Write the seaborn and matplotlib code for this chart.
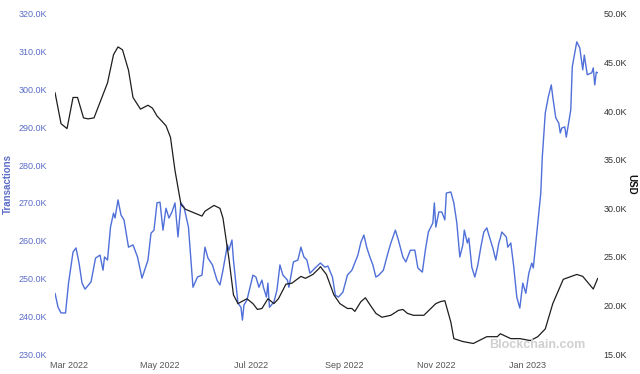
import matplotlib
matplotlib.use("Agg")
import matplotlib.pyplot as plt
import matplotlib.dates as mdates
from matplotlib.ticker import FuncFormatter, MultipleLocator
import pandas as pd
import seaborn as sns

# Daily transactions (thousands), left axis
tx_dates = [
    "2022-02-20", "2022-02-22", "2022-02-24", "2022-02-27", "2022-03-01", "2022-03-04",
    "2022-03-06", "2022-03-08", "2022-03-10", "2022-03-12", "2022-03-16", "2022-03-19",
    "2022-03-22", "2022-03-24", "2022-03-25", "2022-03-27", "2022-03-29", "2022-03-31",
    "2022-04-01", "2022-04-03", "2022-04-05", "2022-04-07", "2022-04-10", "2022-04-13",
    "2022-04-16", "2022-04-19", "2022-04-23", "2022-04-25", "2022-04-27", "2022-04-29",
    "2022-05-01", "2022-05-03", "2022-05-05", "2022-05-07", "2022-05-09", "2022-05-11",
    "2022-05-13", "2022-05-15", "2022-05-17", "2022-05-20", "2022-05-22", "2022-05-23",
    "2022-05-26", "2022-05-29", "2022-05-31", "2022-06-02", "2022-06-05", "2022-06-08",
    "2022-06-10", "2022-06-12", "2022-06-15", "2022-06-16", "2022-06-18", "2022-06-19",
    "2022-06-22", "2022-06-24", "2022-06-25", "2022-06-26", "2022-06-28", "2022-07-02",
    "2022-07-04", "2022-07-06", "2022-07-08", "2022-07-09", "2022-07-11", "2022-07-12",
    "2022-07-13", "2022-07-16", "2022-07-18", "2022-07-20", "2022-07-22", "2022-07-25",
    "2022-07-26", "2022-07-29", "2022-08-01", "2022-08-03", "2022-08-05", "2022-08-07",
    "2022-08-09", "2022-08-13", "2022-08-16", "2022-08-19", "2022-08-21", "2022-08-24",
    "2022-08-26", "2022-08-28", "2022-08-31", "2022-09-03", "2022-09-06", "2022-09-10",
    "2022-09-12", "2022-09-14", "2022-09-16", "2022-09-18", "2022-09-20", "2022-09-22",
    "2022-09-24", "2022-09-27", "2022-09-30", "2022-10-02", "2022-10-05", "2022-10-07",
    "2022-10-10", "2022-10-12", "2022-10-15", "2022-10-18", "2022-10-20", "2022-10-23",
    "2022-10-25", "2022-10-27", "2022-10-30", "2022-10-31", "2022-11-01", "2022-11-03",
    "2022-11-05", "2022-11-07", "2022-11-08", "2022-11-11", "2022-11-13", "2022-11-15",
    "2022-11-17", "2022-11-19", "2022-11-20", "2022-11-22", "2022-11-23", "2022-11-25",
    "2022-11-27", "2022-11-29", "2022-12-01", "2022-12-03", "2022-12-05", "2022-12-06",
    "2022-12-09", "2022-12-11", "2022-12-13", "2022-12-14", "2022-12-15", "2022-12-18",
    "2022-12-19", "2022-12-21", "2022-12-23", "2022-12-25", "2022-12-27", "2022-12-29",
    "2022-12-31", "2023-01-02", "2023-01-04", "2023-01-05", "2023-01-08", "2023-01-10",
    "2023-01-11", "2023-01-13", "2023-01-15", "2023-01-17", "2023-01-18", "2023-01-20",
    "2023-01-22", "2023-01-23", "2023-01-24", "2023-01-26", "2023-01-27", "2023-01-30",
    "2023-01-31", "2023-02-03", "2023-02-05", "2023-02-07", "2023-02-08", "2023-02-10",
    "2023-02-13", "2023-02-14", "2023-02-15", "2023-02-16", "2023-02-17",
]
tx_thousands = [
    246.1, 242.4, 240.9, 240.9, 248.8, 257.0,
    258.1, 254.1, 248.8, 247.2, 249.1, 255.4,
    256.2, 252.2, 255.7, 254.9, 263.6, 267.3,
    266.0, 270.8, 266.8, 265.5, 258.3, 258.9,
    255.7, 250.1, 254.9, 262.0, 262.8, 270.0,
    270.2, 262.8, 268.6, 266.0, 267.6, 270.0,
    261.0, 270.0, 268.9, 263.6, 253.0, 247.7,
    250.4, 250.9, 258.3, 255.4, 253.6, 249.6,
    248.3, 252.2, 258.9, 257.5, 260.2, 254.9,
    243.5, 242.4, 239.0, 243.0, 244.3, 250.9,
    250.4, 247.7, 249.6, 247.7, 245.1, 248.8,
    242.4, 243.8, 246.9, 253.6, 250.9, 249.6,
    247.7, 254.4, 254.9, 258.3, 255.7, 254.9,
    251.4, 253.0, 254.1, 253.0, 253.3, 250.4,
    245.6, 245.1, 246.4, 250.9, 252.2, 256.2,
    259.6, 261.5, 258.1, 255.7, 253.6, 250.4,
    250.9, 252.2, 256.7, 259.4, 262.8, 260.2,
    255.7, 254.4, 257.5, 257.5, 252.8, 251.7,
    257.5, 262.3, 264.7, 270.0, 263.6, 267.6,
    267.6, 265.5, 272.6, 272.9, 270.0, 264.7,
    255.7, 258.9, 262.8, 259.4, 260.7, 253.0,
    250.4, 253.6, 258.3, 262.3, 263.4, 262.0,
    258.1, 254.9, 259.4, 260.7, 262.3, 261.0,
    258.3, 259.4, 253.0, 245.1, 242.2, 248.8,
    246.1, 251.4, 254.1, 252.8, 264.7, 272.6,
    282.1, 293.8, 298.0, 301.2, 298.0, 292.5,
    291.1, 288.5, 289.8, 290.1, 287.4, 294.6,
    306.0, 312.6, 311.0, 305.2, 309.1, 303.9,
    304.4, 305.7, 301.2, 304.6, 304.4,
]

# Market price (thousand USD), right axis
usd_dates = [
    "2022-02-20", "2022-02-24", "2022-02-28", "2022-03-04", "2022-03-07", "2022-03-11",
    "2022-03-14", "2022-03-18", "2022-03-22", "2022-03-27", "2022-03-31", "2022-04-03",
    "2022-04-06", "2022-04-10", "2022-04-13", "2022-04-18", "2022-04-23", "2022-04-26",
    "2022-04-29", "2022-05-05", "2022-05-08", "2022-05-11", "2022-05-15", "2022-05-18",
    "2022-05-29", "2022-05-31", "2022-06-06", "2022-06-10", "2022-06-12", "2022-06-16",
    "2022-06-19", "2022-06-22", "2022-06-28", "2022-07-02", "2022-07-05", "2022-07-08",
    "2022-07-12", "2022-07-16", "2022-07-19", "2022-07-24", "2022-07-28", "2022-08-03",
    "2022-08-06", "2022-08-11", "2022-08-15", "2022-08-16", "2022-08-20", "2022-08-25",
    "2022-08-29", "2022-09-03", "2022-09-06", "2022-09-08", "2022-09-12", "2022-09-15",
    "2022-09-18", "2022-09-22", "2022-09-26", "2022-10-02", "2022-10-07", "2022-10-10",
    "2022-10-13", "2022-10-17", "2022-10-24", "2022-10-28", "2022-11-01", "2022-11-04",
    "2022-11-07", "2022-11-09", "2022-11-11", "2022-11-13", "2022-11-19", "2022-11-26",
    "2022-12-05", "2022-12-12", "2022-12-14", "2022-12-21", "2022-12-27", "2023-01-03",
    "2023-01-08", "2023-01-13", "2023-01-18", "2023-01-25", "2023-02-03", "2023-02-07",
    "2023-02-14", "2023-02-17",
]
usd_thousands = [
    41.9, 38.7, 38.2, 41.4, 41.4, 39.3,
    39.2, 39.3, 40.9, 42.9, 45.8, 46.6,
    46.3, 44.2, 41.4, 40.2, 40.6, 40.3,
    39.5, 38.5, 37.3, 33.9, 30.4, 29.9,
    29.2, 29.7, 30.3, 30.0, 29.0, 24.8,
    21.1, 20.2, 20.7, 20.2, 19.6, 19.7,
    20.7, 20.2, 20.7, 22.2, 22.3, 23.0,
    22.8, 23.2, 23.8, 24.0, 23.2, 21.1,
    20.2, 19.7, 19.7, 19.4, 20.4, 20.8,
    20.1, 19.2, 18.8, 19.0, 19.5, 19.6,
    19.2, 19.0, 19.0, 19.6, 20.2, 20.4,
    20.5, 19.4, 18.3, 16.6, 16.3, 16.1,
    16.8, 16.8, 17.1, 16.6, 16.6, 16.4,
    16.8, 17.6, 20.2, 22.7, 23.2, 23.0,
    21.7, 22.8,
]

tx = pd.DataFrame({"date": pd.to_datetime(tx_dates), "value": tx_thousands})
usd = pd.DataFrame({"date": pd.to_datetime(usd_dates), "value": usd_thousands})

BLUE = "#4f6fd9"
BLUE_TEXT = "#5b6cc8"

sns.set_style("white")
plt.rcParams["font.family"] = ["Liberation Sans", "DejaVu Sans"]

fig = plt.figure(figsize=(6.4, 3.74), dpi=100)
ax = fig.add_axes([0.086, 0.053, 0.848, 0.91])
ax2 = ax.twinx()

sns.lineplot(data=tx, x="date", y="value", ax=ax, color=BLUE, linewidth=1.0)
sns.lineplot(data=usd, x="date", y="value", ax=ax2, color="#1e1e1e", linewidth=0.9)

ax.set_xlim(pd.Timestamp("2022-02-20"), pd.Timestamp("2023-02-17"))
ax.set_ylim(230, 320)
ax2.set_ylim(15, 50)
ax.yaxis.set_major_locator(MultipleLocator(10))
ax2.yaxis.set_major_locator(MultipleLocator(5))
fmt_k = FuncFormatter(lambda v, _: f"{v:.1f}K")
ax.yaxis.set_major_formatter(fmt_k)
ax2.yaxis.set_major_formatter(fmt_k)

ax.xaxis.set_major_locator(mdates.MonthLocator(bymonth=[1, 3, 5, 7, 9, 11]))
ax.xaxis.set_major_formatter(mdates.DateFormatter("%b %Y"))

for a in (ax, ax2):
    for s in a.spines.values():
        s.set_visible(False)
    a.grid(False)

ax.tick_params(axis="y", length=0, pad=6, labelsize=6.5, labelcolor=BLUE_TEXT)
ax2.tick_params(axis="y", length=0, pad=4, labelsize=6.5, labelcolor="#333333")
ax.tick_params(axis="x", length=0, pad=5, labelsize=6.5, labelcolor="#555555")

ax.set_xlabel("")
ax.set_ylabel("Transactions", color=BLUE_TEXT, fontsize=7, fontweight="bold")
ax.yaxis.set_label_coords(-0.078, 0.5)
ax2.set_ylabel("USD", color="#111111", fontsize=7, fontweight="bold", rotation=270, va="center")
ax2.yaxis.set_label_coords(1.062, 0.5)

fig.text(0.765, 0.07, "Blockchain.com", color="#d0d0d0", fontsize=9, fontweight="bold")

fig.savefig("out.png", dpi=100)
